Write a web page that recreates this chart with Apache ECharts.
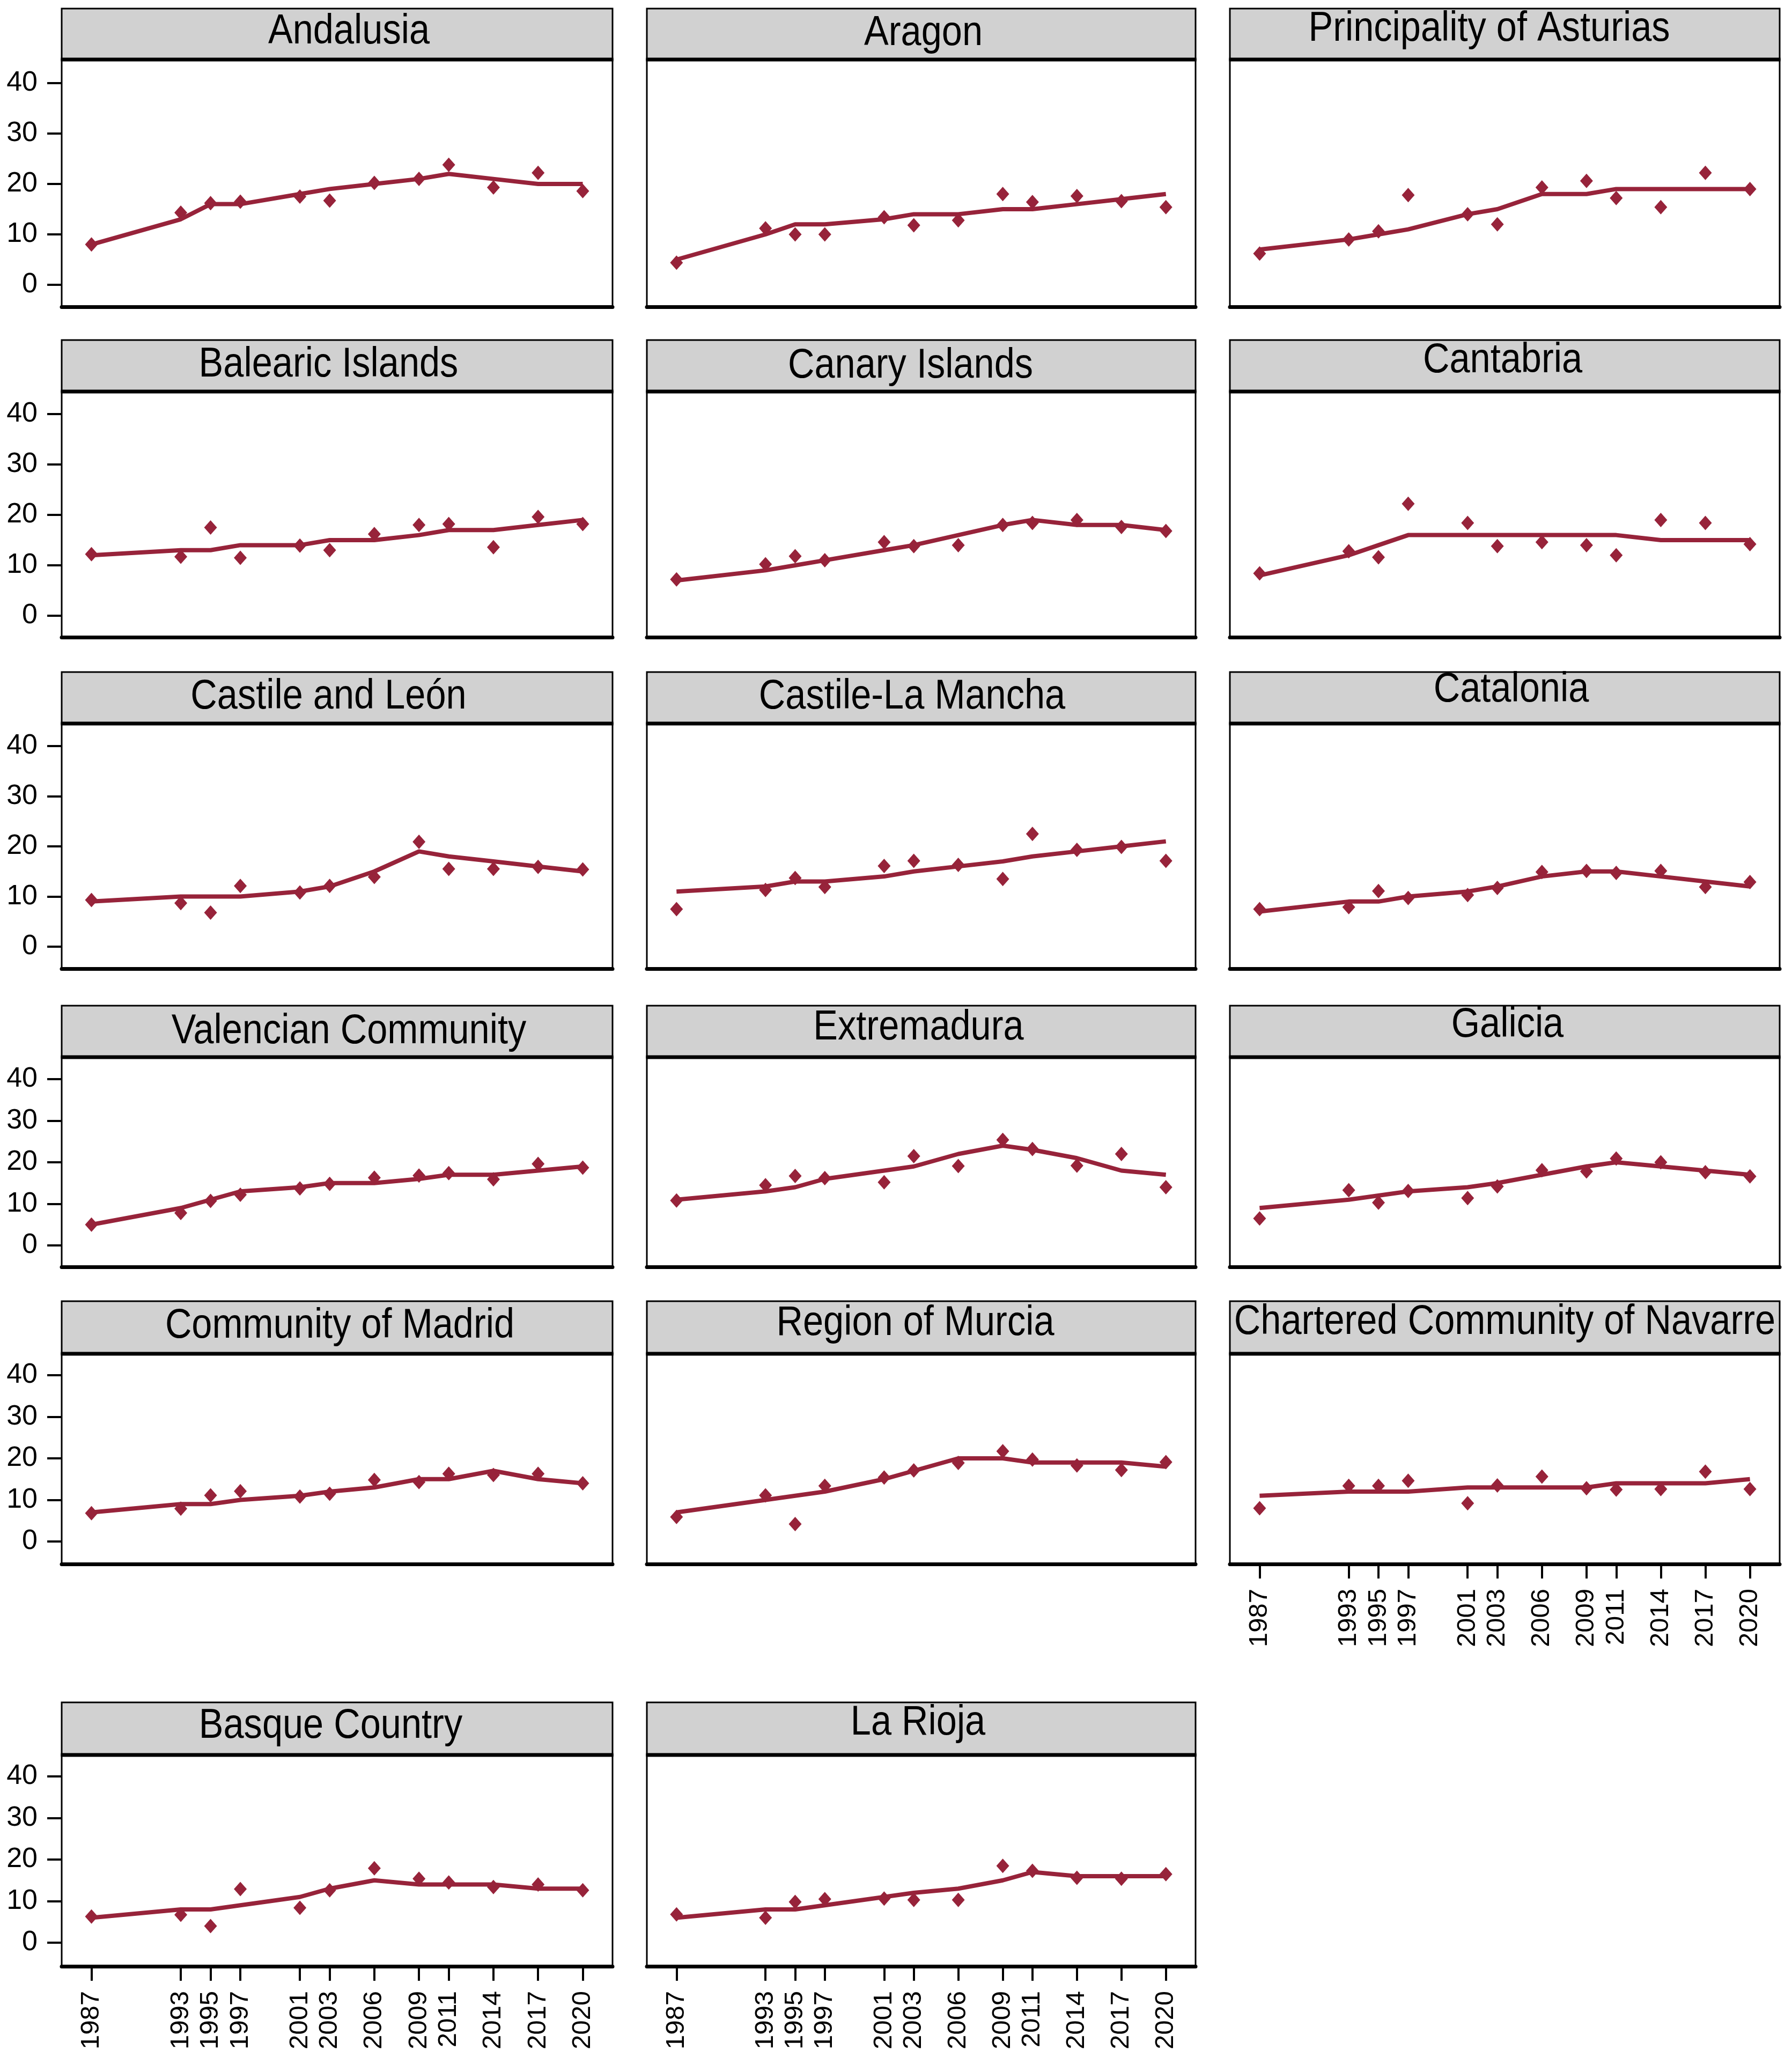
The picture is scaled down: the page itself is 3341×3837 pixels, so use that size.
<!DOCTYPE html>
<html><head><meta charset="utf-8">
<script src="https://cdn.jsdelivr.net/npm/echarts@6/dist/echarts.min.js"></script>
<style>html,body{margin:0;padding:0;background:#fff}#c{width:3341px;height:3837px}</style>
</head><body><div id="c"></div>
<script>
// ---------- data ----------
const years = [1987, 1993, 1995, 1997, 2001, 2003, 2006, 2009, 2011, 2014, 2017, 2020];
const yTicks = [0, 10, 20, 30, 40];
const regions = ['Andalusia', 'Aragon', 'Principality of Asturias',
  'Balearic Islands', 'Canary Islands', 'Cantabria',
  'Castile and León', 'Castile-La Mancha', 'Catalonia',
  'Valencian Community', 'Extremadura', 'Galicia',
  'Community of Madrid', 'Region of Murcia', 'Chartered Community of Navarre',
  'Basque Country', 'La Rioja'];

const obsAndalusia = [8.0, 14.3, 16.2, 16.5, 17.5, 16.7, 20.2, 21.0, 23.8, 19.3, 22.2, 18.6];
const fitAndalusia = [8, 13, 16, 16, 18, 19, 20, 21, 22, 21, 20, 20];
const obsAragon = [4.4, 11.2, 10.0, 10.0, 13.4, 11.8, 12.8, 18.0, 16.4, 17.6, 16.6, 15.4];
const fitAragon = [5, 10, 12, 12, 13, 14, 14, 15, 15, 16, 17, 18];
const obsAsturias = [6.2, 9.0, 10.6, 17.8, 14.0, 12.0, 19.3, 20.6, 17.2, 15.4, 22.2, 19.0];
const fitAsturias = [7, 9, 10, 11, 14, 15, 18, 18, 19, 19, 19, 19];
const obsBalearic = [12.2, 11.7, 17.5, 11.5, 13.9, 13.0, 16.2, 18.0, 18.2, 13.6, 19.6, 18.2];
const fitBalearic = [12, 13, 13, 14, 14, 15, 15, 16, 17, 17, 18, 19];
const obsCanary = [7.2, 10.2, 11.8, 11.0, 14.6, 13.8, 14.0, 18.0, 18.4, 19.0, 17.6, 16.8];
const fitCanary = [7, 9, 10, 11, 13, 14, 16, 18, 19, 18, 18, 17];
const obsCantabria = [8.4, 12.8, 11.6, 22.2, 18.4, 13.8, 14.6, 14.0, 12.0, 19.0, 18.4, 14.2];
const fitCantabria = [8, 12, 14, 16, 16, 16, 16, 16, 16, 15, 15, 15];
const obsCastileLeon = [9.3, 8.7, 6.8, 12.1, 10.8, 12.1, 13.9, 20.9, 15.5, 15.5, 15.9, 15.4];
const fitCastileLeon = [9, 10, 10, 10, 11, 12, 15, 19, 18, 17, 16, 15];
const obsCastileMancha = [7.5, 11.3, 13.7, 11.9, 16.1, 17.1, 16.3, 13.5, 22.5, 19.3, 19.9, 17.1];
const fitCastileMancha = [11, 12, 13, 13, 14, 15, 16, 17, 18, 19, 20, 21];
const obsCatalonia = [7.5, 7.9, 11.1, 9.7, 10.3, 11.7, 14.9, 15.1, 14.7, 15.1, 11.9, 12.9];
const fitCatalonia = [7, 9, 9, 10, 11, 12, 14, 15, 15, 14, 13, 12];
const obsValencia = [5.0, 7.8, 10.7, 12.2, 13.7, 14.8, 16.3, 16.8, 17.4, 15.9, 19.6, 18.7];
const fitValencia = [5, 9, 11, 13, 14, 15, 15, 16, 17, 17, 18, 19];
const obsExtremadura = [10.8, 14.5, 16.7, 16.2, 15.2, 21.5, 19.1, 25.4, 23.2, 19.2, 22.0, 14.0];
const fitExtremadura = [11, 13, 14, 16, 18, 19, 22, 24, 23, 21, 18, 17];
const obsGalicia = [6.5, 13.3, 10.3, 13.1, 11.4, 14.2, 18.1, 17.8, 20.9, 20.0, 17.6, 16.6];
const fitGalicia = [9, 11, 12, 13, 14, 15, 17, 19, 20, 19, 18, 17];
const obsMadrid = [6.8, 7.9, 11.1, 12.1, 10.8, 11.5, 14.8, 14.3, 16.3, 16.0, 16.3, 14.0];
const fitMadrid = [7, 9, 9, 10, 11, 12, 13, 15, 15, 17, 15, 14];
const obsMurcia = [5.9, 11.1, 4.2, 13.4, 15.4, 17.1, 18.9, 21.7, 19.7, 18.3, 17.2, 19.1];
const fitMurcia = [7, 10, 11, 12, 15, 17, 20, 20, 19, 19, 19, 18];
const obsNavarre = [8.0, 13.4, 13.4, 14.6, 9.2, 13.5, 15.6, 12.8, 12.5, 12.6, 16.8, 12.6];
const fitNavarre = [11, 12, 12, 12, 13, 13, 13, 13, 14, 14, 14, 15];
const obsBasque = [6.3, 6.7, 4.0, 12.9, 8.4, 12.6, 17.9, 15.4, 14.5, 13.4, 14.0, 12.6];
const fitBasque = [6, 8, 8, 9, 11, 13, 15, 14, 14, 14, 13, 13];
const obsRioja = [6.8, 6.0, 9.8, 10.5, 10.6, 10.3, 10.3, 18.5, 17.3, 15.6, 15.4, 16.5];
const fitRioja = [6, 8, 8, 9, 11, 12, 13, 15, 17, 16, 16, 16];

const observed = [obsAndalusia, obsAragon, obsAsturias, obsBalearic, obsCanary, obsCantabria,
  obsCastileLeon, obsCastileMancha, obsCatalonia, obsValencia, obsExtremadura, obsGalicia,
  obsMadrid, obsMurcia, obsNavarre, obsBasque, obsRioja];
const fitted = [fitAndalusia, fitAragon, fitAsturias, fitBalearic, fitCanary, fitCantabria,
  fitCastileLeon, fitCastileMancha, fitCatalonia, fitValencia, fitExtremadura, fitGalicia,
  fitMadrid, fitMurcia, fitNavarre, fitBasque, fitRioja];

// ---------- layout ----------
const COLS = [[115, 1142], [1206, 2229], [2293, 3318]];
const ROWS = [
  {stripTop: 16, plotTop: 111, plotBottom: 572, y0: 531, y40: 155},
  {stripTop: 634, plotTop: 730, plotBottom: 1188, y0: 1148, y40: 772},
  {stripTop: 1253, plotTop: 1349, plotBottom: 1806, y0: 1765, y40: 1391},
  {stripTop: 1875, plotTop: 1971, plotBottom: 2362, y0: 2322, y40: 2012},
  {stripTop: 2426, plotTop: 2524, plotBottom: 2916, y0: 2874, y40: 2564},
  {stripTop: 3174, plotTop: 3272, plotBottom: 3666, y0: 3622, y40: 3312}
];
const TITLE_DX = [22, 4, -29, -16, -20, -4, -16, -17, 12, 22, -5, 5, 5, -11, 0, -12, -6];
const TITLE_CAP = [16, 19, 11, 19, 21, 11, 19, 19, 6, 21, 14, 9, 19, 14, 12, 17, 11];
const X_AXIS_PANELS = [14, 15, 16];
const X_MIN = 1985, X_MAX = 2022;
const RED = '#97233a';
const FONT = 'Liberation Sans, Arial, Helvetica, sans-serif';

const grids = [], xAxes = [], yAxes = [], series = [], graphics = [];
regions.forEach((name, i) => {
  const r = ROWS[Math.floor(i / 3)], c = COLS[i % 3];
  const unit = (r.y0 - r.y40) / 40;
  const yMin = -(r.plotBottom - r.y0) / unit;
  const yMax = (r.y0 - r.plotTop) / unit;
  const showY = (i % 3) === 0;
  const showX = X_AXIS_PANELS.includes(i);
  grids.push({left: c[0], top: r.plotTop, width: c[1] - c[0], height: r.plotBottom - r.plotTop,
    show: true, borderColor: '#000', borderWidth: 3, backgroundColor: '#fff'});
  xAxes.push({type: 'value', gridIndex: i, min: X_MIN, max: X_MAX,
    axisLine: {show: true, onZero: false, lineStyle: {color: '#000', width: 7}},
    axisTick: {show: showX, customValues: years, length: 27, lineStyle: {color: '#000', width: 4}},
    axisLabel: {show: showX, customValues: years, rotate: 90, margin: 46, fontSize: 49,
      color: '#000', fontFamily: FONT, formatter: v => String(v)},
    splitLine: {show: false}});
  yAxes.push({type: 'value', gridIndex: i, min: yMin, max: yMax,
    axisLine: {show: false, onZero: false},
    axisTick: {show: showY, customValues: yTicks, length: 27, lineStyle: {color: '#000', width: 4}},
    axisLabel: {show: showY, customValues: yTicks, margin: 45, fontSize: 52, color: '#000', fontFamily: FONT,
      formatter: v => String(v)},
    splitLine: {show: false}});
  series.push({type: 'scatter', xAxisIndex: i, yAxisIndex: i, symbol: 'diamond', symbolSize: [24, 27],
    itemStyle: {color: RED, opacity: 1}, data: years.map((y, k) => [y, observed[i][k]]), z: 3});
  series.push({type: 'line', xAxisIndex: i, yAxisIndex: i, showSymbol: false, symbol: 'none',
    lineStyle: {color: RED, width: 8}, data: years.map((y, k) => [y, fitted[i][k]]), z: 4});
  // strip
  graphics.push({type: 'rect', shape: {x: c[0], y: r.stripTop, width: c[1] - c[0], height: r.plotTop - r.stripTop},
    style: {fill: '#d1d1d1', stroke: '#000', lineWidth: 3}, z: 10});
  graphics.push({type: 'line', shape: {x1: c[0] - 1.5, y1: r.plotTop, x2: c[1] + 1.5, y2: r.plotTop},
    style: {stroke: '#000', lineWidth: 7}, z: 11});
  graphics.push({type: 'text', x: (c[0] + c[1]) / 2 + TITLE_DX[i], y: r.stripTop + TITLE_CAP[i] + 27.5,
    scaleX: 0.89, z: 12,
    style: {text: name, fill: '#000', font: '77px ' + FONT, fontSize: 77, fontFamily: FONT,
      align: 'center', verticalAlign: 'middle', textAlign: 'center', textVerticalAlign: 'middle'}});
});

const chart = echarts.init(document.getElementById('c'), null, {renderer: 'canvas'});
chart.setOption({
  backgroundColor: '#fff',
  animation: false,
  grid: grids, xAxis: xAxes, yAxis: yAxes, series: series,
  graphic: graphics
});
</script>
</body></html>
